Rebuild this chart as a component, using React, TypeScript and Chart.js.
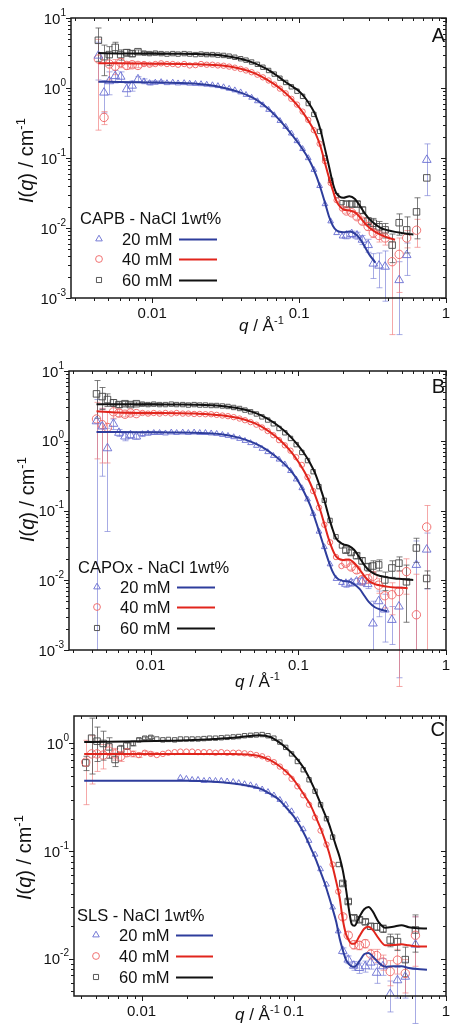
import React, { useEffect, useRef } from "react";
import { Chart, registerables } from "chart.js";

Chart.register(...registerables);

const FONT = 'Arial, "Liberation Sans", Helvetica, sans-serif';

// ---------------- data ----------------
// q grid of measured points (Å^-1): low-q (8), mid-q (36), high-q (13)
const qPoints = [
  0.0043, 0.0047, 0.0051, 0.0056, 0.0061, 0.0067, 0.0073, 0.008,
  0.0088, 0.0096, 0.0105, 0.0115, 0.0126, 0.0138, 0.015, 0.0165, 0.018, 0.0197,
  0.0215, 0.0235, 0.0257, 0.028, 0.0306, 0.0334, 0.0365, 0.04, 0.0435, 0.0475,
  0.052, 0.0567, 0.062, 0.0677, 0.074, 0.081, 0.0885, 0.0967, 0.1056, 0.1154,
  0.126, 0.138, 0.15, 0.164, 0.18, 0.196,
  0.21, 0.228, 0.248, 0.27, 0.295, 0.32, 0.35, 0.385, 0.43, 0.48, 0.54, 0.63, 0.74,
];

// q grid of model fits, panels A and B
const qFitAB = [
  0.0043, 0.006, 0.01, 0.015, 0.02, 0.03, 0.04, 0.05, 0.06, 0.07,
  0.08, 0.09, 0.1, 0.11, 0.12, 0.13, 0.14, 0.15, 0.16, 0.17,
  0.18, 0.2, 0.22, 0.24, 0.26, 0.28, 0.3, 0.33, 0.36, 0.4,
  0.45, 0.5, 0.55, 0.6,
];
// q grid of model fits, panel C
const qFitC = [
  0.0042, 0.006, 0.01, 0.015, 0.02, 0.03, 0.04, 0.05, 0.06, 0.07,
  0.08, 0.09, 0.1, 0.11, 0.12, 0.13, 0.14, 0.15, 0.16, 0.17,
  0.18, 0.19, 0.2, 0.21, 0.22, 0.23, 0.24, 0.25, 0.27, 0.29,
  0.31, 0.33, 0.36, 0.4, 0.45, 0.51, 0.57, 0.65, 0.75,
];

// ---- Panel A: CAPB ----
const ptsA20 = [
  2.9, 0.86, 1.25, 1.48, 1.45, 0.96, 1.08, 1.33,
  1.25, 1.18, 1.2, 1.22, 1.18, 1.2, 1.17, 1.18, 1.16, 1.15,
  1.14, 1.12, 1.1, 1.07, 1.03, 0.98, 0.93, 0.87, 0.8, 0.73,
  0.65, 0.57, 0.49, 0.41, 0.34, 0.28, 0.225, 0.175, 0.135, 0.1,
  0.068, 0.04, 0.022, 0.0125, 0.0085, 0.0076,
  0.0078, 0.0082, 0.0078, 0.0068, 0.0057, 0.0031, 0.0029, 0.0028, null, 0.0018, 0.0041, null, 0.094,
];
const errA20 = [
  1.6, 0.42, 0.45, 0.3, 0.25, 0.2, 0.18, 0.12,
  0.1, 0.08, 0.06, 0.05, 0, 0, 0, 0, 0, 0,
  0, 0, 0, 0, 0, 0, 0, 0, 0, 0,
  0, 0, 0, 0, 0, 0, 0, 0, 0, 0,
  0, 0, 0, 0, 0, 0,
  0.0008, 0.0008, 0.0009, 0.001, 0.0012, 0.0012, 0.0015, 0.0019, 0, 0.0015, 0.002, 0, 0.065,
];
const ptsA40 = [
  2.6, 0.38, 2.2, 2.05, 2.3, 2.1, 2.15, 2.1,
  2.2, 2.15, 2.2, 2.25, 2.2, 2.2, 2.15, 2.2, 2.1, 2.12,
  2.2, 2.15, 2.15, 2.1, 2.08, 2.02, 1.95, 1.87, 1.78, 1.68,
  1.55, 1.42, 1.28, 1.12, 0.98, 0.84, 0.7, 0.58, 0.46, 0.35,
  0.25, 0.16, 0.09, 0.044, 0.025, 0.019,
  0.0175, 0.0165, 0.0145, 0.0125, 0.0105, 0.0085, 0.0078, 0.0072, 0.0033, 0.0042, 0.0072, 0.0093, null,
];
const errA40 = [
  2.35, 0.08, 0.9, 0.5, 0.35, 0.25, 0.2, 0.15,
  0.1, 0.08, 0.06, 0.05, 0, 0, 0, 0, 0, 0,
  0, 0, 0, 0, 0, 0, 0, 0, 0, 0,
  0, 0, 0, 0, 0, 0, 0, 0, 0, 0,
  0, 0, 0, 0, 0, 0,
  0.0012, 0.0012, 0.0012, 0.0012, 0.0012, 0.0012, 0.0015, 0.0015, 0.003, 0.003, 0.002, 0.004, 0,
];
const ptsA60 = [
  4.8, 2.8, 3.0, 3.8, 3.0, 3.2, 3.1, 3.3,
  3.15, 3.1, 3.15, 3.1, 3.05, 3.1, 3.05, 3.1, 3.05, 3.0,
  3.05, 3.0, 3.0, 2.95, 2.92, 2.85, 2.75, 2.62, 2.5, 2.35,
  2.18, 1.98, 1.78, 1.58, 1.38, 1.2, 1.04, 0.9, 0.76, 0.6,
  0.42, 0.24, 0.1, 0.048, 0.029, 0.023,
  0.022, 0.022, 0.022, 0.018, 0.0125, 0.0117, 0.0104, 0.0094, 0.0057, 0.0119, 0.0094, 0.017, 0.052,
];
const errA60 = [
  2.4, 1.3, 0.9, 0.7, 0.5, 0.35, 0.3, 0.2,
  0.15, 0.12, 0.1, 0.08, 0, 0, 0, 0, 0, 0,
  0, 0, 0, 0, 0, 0, 0, 0, 0, 0,
  0, 0, 0, 0, 0, 0, 0, 0, 0, 0,
  0, 0, 0, 0, 0, 0,
  0.002, 0.002, 0.002, 0.002, 0.0015, 0.002, 0.002, 0.0022, 0.0025, 0.004, 0.005, 0.01, 0,
];
const fitA20 = [
  1.23, 1.22, 1.2, 1.18, 1.15, 1.02, 0.86, 0.7, 0.53, 0.39,
  0.285, 0.21, 0.158, 0.117, 0.085, 0.058, 0.037, 0.023, 0.0145, 0.0107,
  0.0092, 0.0087, 0.0089, 0.0083, 0.007, 0.0054, 0.0042, 0.0032, null, null,
  null, null, null, null,
];
const fitA40 = [
  2.25, 2.25, 2.22, 2.2, 2.18, 2.1, 1.88, 1.62, 1.33, 1.08,
  0.86, 0.68, 0.53, 0.4, 0.3, 0.22, 0.145, 0.085, 0.052, 0.034,
  0.024, 0.0185, 0.0178, 0.0168, 0.0142, 0.0117, 0.0102, 0.0088, 0.008, 0.0073,
  0.0068, null, null, null,
];
const fitA60 = [
  3.15, 3.12, 3.1, 3.08, 3.05, 2.92, 2.62, 2.25, 1.87, 1.52,
  1.24, 1.05, 0.9, 0.72, 0.55, 0.4, 0.25, 0.135, 0.075, 0.043,
  0.031, 0.027, 0.0285, 0.026, 0.0205, 0.0162, 0.0135, 0.0113, 0.01, 0.0093,
  0.0088, 0.0085, 0.0082, 0.0081,
];

// ---- Panel B: CAPOx ----
const ptsB20 = [
  1.9, 1.6, 0.78, 1.75, 1.3, 1.15, 1.2, 1.15,
  1.25, 1.28, 1.3, 1.3, 1.28, 1.32, 1.3, 1.32, 1.3, 1.32,
  1.3, 1.3, 1.28, 1.26, 1.22, 1.18, 1.13, 1.07, 1.0, 0.93,
  0.85, 0.77, 0.69, 0.61, 0.54, 0.46, 0.37, 0.28, 0.21, 0.145,
  0.09, 0.05, 0.03, 0.017, 0.0105, 0.0092,
  0.0089, 0.0092, 0.0096, 0.0096, 0.0088, 0.0024, 0.005, 0.0038, 0.0027, 0.0042, null, 0.0166, 0.0275,
];
const errB20 = [
  2.0, 1.29, 0.73, 0.3, 0.15, 0.15, 0.12, 0.1,
  0.1, 0.08, 0.06, 0.05, 0, 0, 0, 0, 0, 0,
  0, 0, 0, 0, 0, 0, 0, 0, 0, 0,
  0, 0, 0, 0, 0, 0, 0, 0, 0, 0,
  0, 0, 0, 0, 0, 0,
  0.001, 0.001, 0.001, 0.0012, 0.0012, 0.0026, 0.002, 0.0025, 0.0015, 0.0038, 0, 0.02, 0.02,
];
const ptsB40 = [
  2.05, 1.7, 1.55, 2.6, 2.5, 2.4, 2.5, 2.45,
  2.5, 2.45, 2.5, 2.45, 2.5, 2.45, 2.5, 2.45, 2.45, 2.42,
  2.42, 2.4, 2.4, 2.35, 2.3, 2.25, 2.18, 2.08, 1.97, 1.85,
  1.7, 1.55, 1.38, 1.2, 1.02, 0.86, 0.72, 0.58, 0.45, 0.3,
  0.19, 0.11, 0.0625, 0.035, 0.0215, 0.016,
  0.0175, 0.0155, 0.0141, 0.0101, 0.0105, 0.0114, 0.0085, 0.006, 0.0062, 0.0069, 0.0133, 0.0032, 0.058,
];
const errB40 = [
  1.5, 1.22, 1.07, 0.5, 0.3, 0.2, 0.15, 0.12,
  0.1, 0.08, 0.06, 0.05, 0, 0, 0, 0, 0, 0,
  0, 0, 0, 0, 0, 0, 0, 0, 0, 0,
  0, 0, 0, 0, 0, 0, 0, 0, 0, 0,
  0, 0, 0, 0, 0, 0,
  0.0015, 0.0015, 0.0015, 0.0015, 0.0015, 0.002, 0.002, 0.002, 0.003, 0.0066, 0.007, 0.009, 0.06,
];
const ptsB60 = [
  4.7, 4.3, 3.9, 3.5, 3.3, 3.4, 3.3, 3.4,
  3.35, 3.3, 3.35, 3.3, 3.3, 3.35, 3.3, 3.3, 3.25, 3.3,
  3.25, 3.25, 3.2, 3.2, 3.15, 3.1, 3.0, 2.9, 2.75, 2.6,
  2.42, 2.2, 1.98, 1.75, 1.5, 1.3, 1.08, 0.88, 0.68, 0.52,
  0.36, 0.22, 0.14, 0.072, 0.042, 0.031,
  0.027, 0.025, 0.0225, 0.019, 0.0155, 0.016, 0.0166, 0.0101, 0.015, 0.0176, 0.0095, 0.029, 0.0106,
];
const errB60 = [
  2.6, 1.5, 0.8, 0.4, 0.3, 0.25, 0.2, 0.2,
  0.15, 0.12, 0.1, 0.08, 0, 0, 0, 0, 0, 0,
  0, 0, 0, 0, 0, 0, 0, 0, 0, 0,
  0, 0, 0, 0, 0, 0, 0, 0, 0, 0,
  0, 0, 0, 0, 0, 0,
  0.002, 0.002, 0.002, 0.002, 0.002, 0.003, 0.003, 0.003, 0.004, 0.004, 0.007, 0.011, 0.003,
];
const fitB20 = [
  1.33, 1.33, 1.32, 1.31, 1.3, 1.24, 1.1, 0.93, 0.76, 0.6,
  0.47, 0.36, 0.26, 0.18, 0.12, 0.075, 0.046, 0.029, 0.019, 0.0135,
  0.011, 0.0098, 0.0096, 0.0087, 0.0075, 0.006, 0.0049, 0.0041, 0.0038, 0.0036,
  null, null, null, null,
];
const fitB40 = [
  2.65, 2.55, 2.5, 2.48, 2.45, 2.32, 2.1, 1.8, 1.47, 1.16,
  0.9, 0.68, 0.5, 0.36, 0.25, 0.165, 0.105, 0.064, 0.04, 0.028,
  0.022, 0.0195, 0.0198, 0.0175, 0.0142, 0.0115, 0.0098, 0.0088, 0.0084, 0.0081,
  0.0079, 0.0078, 0.0077, null,
];
const fitB60 = [
  3.35, 3.35, 3.33, 3.3, 3.28, 3.15, 2.9, 2.55, 2.15, 1.75,
  1.4, 1.1, 0.85, 0.65, 0.48, 0.34, 0.22, 0.14, 0.085, 0.055,
  0.04, 0.033, 0.031, 0.027, 0.021, 0.0165, 0.014, 0.0122, 0.0115, 0.011,
  0.0106, 0.0104, 0.0102, 0.0101,
];

// ---- Panel C: SLS ----
const ptsC20 = [
  null, null, null, null, null, null, null, null,
  null, null, null, null, null, null, null, null, 0.48, 0.47,
  0.46, 0.46, 0.45, 0.455, 0.45, 0.45, 0.445, 0.44, 0.43, 0.42,
  0.41, 0.395, 0.375, 0.355, 0.33, 0.3, 0.27, 0.235, 0.195, 0.16,
  0.125, 0.093, 0.068, 0.049, 0.03, 0.018,
  0.0118, 0.0098, 0.0086, 0.0082, 0.0085, 0.0092, 0.0074, 0.0085, 0.0047, 0.0063, 0.0068, 0.0135, null,
];
const errC20 = [
  0, 0, 0, 0, 0, 0, 0, 0,
  0, 0, 0, 0, 0, 0, 0, 0, 0, 0,
  0, 0, 0, 0, 0, 0, 0, 0, 0, 0,
  0, 0, 0, 0, 0, 0, 0, 0, 0, 0,
  0, 0, 0, 0, 0, 0,
  0.0008, 0.0008, 0.0008, 0.0009, 0.001, 0.0012, 0.0015, 0.0015, 0.0015, 0.002, 0.0025, 0.011, 0,
];
const ptsC40 = [
  0.67, 0.8, 0.8, 0.78, 0.85, 0.8, 0.76, 0.82,
  0.8, 0.78, 0.82, 0.8, 0.78, 0.8, 0.82, 0.83, 0.84, 0.84,
  0.84, 0.83, 0.83, 0.83, 0.82, 0.83, 0.82, 0.82, 0.82, 0.81,
  0.8, 0.78, 0.76, 0.72, 0.67, 0.61, 0.54, 0.47, 0.4, 0.33,
  0.27, 0.205, 0.155, 0.115, 0.075, 0.042,
  0.0245, 0.0165, 0.0135, 0.0133, 0.0138, 0.011, 0.0107, 0.0093, 0.0076, 0.0097, 0.0073, 0.0165, null,
];
const errC40 = [
  0.4, 0.38, 0.25, 0.2, 0.12, 0.1, 0.08, 0.06,
  0.05, 0.04, 0.03, 0.03, 0, 0, 0, 0, 0, 0,
  0, 0, 0, 0, 0, 0, 0, 0, 0, 0,
  0, 0, 0, 0, 0, 0, 0, 0, 0, 0,
  0, 0, 0, 0, 0, 0,
  0.0015, 0.0012, 0.0012, 0.0012, 0.0012, 0.0012, 0.0015, 0.0015, 0.002, 0.0025, 0.0025, 0.008, 0,
];
const ptsC60 = [
  0.66, 1.12, 1.05, 1.0, 0.93, 0.71, 0.88, 0.95,
  1.0, 1.08, 1.12, 1.14, 1.1, 1.08, 1.09, 1.08, 1.1, 1.1,
  1.1, 1.1, 1.11, 1.12, 1.12, 1.13, 1.14, 1.15, 1.16, 1.18,
  1.19, 1.2, 1.21, 1.18, 1.12, 1.03, 0.92, 0.8, 0.68, 0.57,
  0.46, 0.36, 0.27, 0.2, 0.135, 0.075,
  0.05, 0.034, 0.024, 0.023, 0.022, 0.02, 0.0198, 0.019, 0.0149, 0.0144, 0.0098, 0.0185, null,
];
const errC60 = [
  0.1, 0.6, 0.37, 0.3, 0.2, 0.1, 0.08, 0.06,
  0.05, 0.04, 0.03, 0.03, 0, 0, 0, 0, 0, 0,
  0, 0, 0, 0, 0, 0, 0, 0, 0, 0,
  0, 0, 0, 0, 0, 0, 0, 0, 0, 0,
  0, 0, 0, 0, 0, 0,
  0.002, 0.0015, 0.0012, 0.0012, 0.0012, 0.0012, 0.0015, 0.0015, 0.002, 0.0025, 0.003, 0.007, 0,
];
const fitC20 = [
  0.45, 0.45, 0.45, 0.45, 0.45, 0.44, 0.425, 0.405, 0.38, 0.34,
  0.3, 0.25, 0.21, 0.17, 0.135, 0.105, 0.083, 0.064, 0.05, 0.038,
  0.029, 0.022, 0.0155, 0.012, 0.0098, 0.0089, 0.0085, 0.0084, 0.0095, 0.011,
  0.0113, 0.0105, 0.0092, 0.0084, 0.0085, 0.0085, 0.0082, 0.008, 0.0079,
];
const fitC40 = [
  0.8, 0.8, 0.8, 0.8, 0.8, 0.8, 0.8, 0.79, 0.76, 0.7,
  0.62, 0.54, 0.46, 0.38, 0.315, 0.26, 0.205, 0.163, 0.127, 0.098,
  0.072, 0.052, 0.037, 0.023, 0.017, 0.0148, 0.0138, 0.0138, 0.0162, 0.019,
  0.0198, 0.0185, 0.0155, 0.0133, 0.0134, 0.0136, 0.0133, 0.013, 0.013,
];
const fitC60 = [
  1.03, 1.04, 1.05, 1.06, 1.07, 1.1, 1.13, 1.17, 1.19, 1.15,
  1.03, 0.9, 0.78, 0.66, 0.55, 0.44, 0.35, 0.275, 0.22, 0.18,
  0.14, 0.11, 0.088, 0.066, 0.045, 0.029, 0.021, 0.0202, 0.0245, 0.0288,
  0.0302, 0.0275, 0.022, 0.0194, 0.0198, 0.0205, 0.0196, 0.0192, 0.0191,
];

const seriesLabels = ["20 mM", "40 mM", "60 mM"];
const xTickLabels = ["0.01", "0.1", "1"];

// ---------------- styles ----------------
const SERIES = [
  { style: "triangle", point: "rgba(104,110,210,0.9)", err: "rgba(120,126,214,0.65)", line: "#2e3d9c", rBig: 5.0, rSmall: 3.3, rLeg: 3.8 },
  { style: "circle", point: "rgba(240,100,100,0.9)", err: "rgba(240,122,122,0.65)", line: "#e1251c", rBig: 4.2, rSmall: 2.7, rLeg: 3.4 },
  { style: "rect", point: "rgba(70,70,70,0.9)", err: "rgba(80,80,80,0.75)", line: "#111111", rBig: 4.6, rSmall: 3.1, rLeg: 3.6 },
];

type PanelCfg = any;

const panels: PanelCfg[] = [
  {
    key: "A", top: 0, height: 345,
    area: { left: 71, top: 18, right: 449, bottom: 298 },
    xMin: 0.0028, xMax: 1, yMin: 1e-3, yMax: 10,
    legendTitle: "CAPB - NaCl 1wt%",
    legend: { x: 80, titleY: 224, rows: [239, 259, 280], sym: 99, label: 122, line: [179, 217] },
    letterY: 42, yTitle: { x: 33, y: 203 }, xTitle: { x: 239, y: 331 },
    qFit: qFitAB, fits: [fitA20, fitA40, fitA60], pts: [ptsA20, ptsA40, ptsA60], errs: [errA20, errA40, errA60],
  },
  {
    key: "B", top: 345, height: 345,
    area: { left: 69, top: 26, right: 447, bottom: 305 },
    xMin: 0.0028, xMax: 1, yMin: 1e-3, yMax: 10,
    legendTitle: "CAPOx - NaCl 1wt%",
    legend: { x: 78, titleY: 228, rows: [242, 262, 283], sym: 97, label: 120, line: [177, 215] },
    letterY: 48, yTitle: { x: 34, y: 197 }, xTitle: { x: 235, y: 342 },
    qFit: qFitAB, fits: [fitB20, fitB40, fitB60], pts: [ptsB20, ptsB40, ptsB60], errs: [errB20, errB40, errB60],
  },
  {
    key: "C", top: 690, height: 335,
    area: { left: 74, top: 26, right: 450, bottom: 306 },
    xMin: 0.0036, xMax: 1, yMin: 0.0045, yMax: 1.8,
    legendTitle: "SLS - NaCl 1wt%",
    legend: { x: 77, titleY: 231, rows: [245, 266, 287], sym: 96, label: 119, line: [176, 213] },
    letterY: 46, yTitle: { x: 31, y: 210 }, xTitle: { x: 235, y: 330 },
    qFit: qFitC, fits: [fitC20, fitC40, fitC60], pts: [ptsC20, ptsC40, ptsC60], errs: [errC20, errC40, errC60],
  },
];

// ---------------- drawing helpers ----------------
type Part = { t: string; it?: boolean; sup?: boolean };
function drawRich(ctx: CanvasRenderingContext2D, parts: Part[], x: number, y: number, size: number) {
  let cx = x;
  for (const p of parts) {
    const fs = p.sup ? Math.round(size * 0.66) : size;
    ctx.font = `${p.it ? "italic " : ""}${fs}px ${FONT}`;
    ctx.fillText(p.t, cx, p.sup ? y - size * 0.42 : y);
    cx += ctx.measureText(p.t).width;
  }
  return cx - x;
}

function drawMarker(ctx: CanvasRenderingContext2D, style: string, x: number, y: number, r: number) {
  ctx.beginPath();
  if (style === "triangle") {
    for (let k = 0; k < 3; k++) {
      const a = (k * 2 * Math.PI) / 3;
      const px = x + Math.sin(a) * r;
      const py = y - Math.cos(a) * r;
      if (k === 0) ctx.moveTo(px, py);
      else ctx.lineTo(px, py);
    }
    ctx.closePath();
  } else if (style === "circle") {
    ctx.arc(x, y, r, 0, Math.PI * 2);
  } else {
    const s = r * Math.SQRT1_2;
    ctx.rect(x - s, y - s, 2 * s, 2 * s);
  }
  ctx.stroke();
}

function makePlugin(p: PanelCfg) {
  return {
    id: "decor" + p.key,
    beforeDatasetsDraw(chart: any) {
      const ctx: CanvasRenderingContext2D = chart.ctx;
      const xs = chart.scales.x;
      const ys = chart.scales.y;
      const ca = chart.chartArea;
      ctx.save();
      ctx.lineWidth = 1;
      SERIES.forEach((s, si) => {
        const vals = p.pts[si];
        const errs = p.errs[si];
        ctx.strokeStyle = s.err;
        for (let i = 0; i < qPoints.length; i++) {
          const v = vals[i];
          const e = errs[i];
          if (v == null || !e) continue;
          const px = Math.round(xs.getPixelForValue(qPoints[i])) + 0.5;
          const hi = v + e;
          const lo = v - e;
          const yHi = hi >= p.yMax ? ca.top : ys.getPixelForValue(hi);
          const yLo = lo <= 0 ? ca.bottom : ys.getPixelForValue(lo);
          ctx.beginPath();
          ctx.moveTo(px, yHi);
          ctx.lineTo(px, yLo);
          if (hi < p.yMax) {
            ctx.moveTo(px - 3, yHi);
            ctx.lineTo(px + 3, yHi);
          }
          if (lo > 0) {
            ctx.moveTo(px - 3, yLo);
            ctx.lineTo(px + 3, yLo);
          }
          ctx.stroke();
        }
      });
      ctx.restore();
    },
    afterDraw(chart: any) {
      const ctx: CanvasRenderingContext2D = chart.ctx;
      const xs = chart.scales.x;
      const ys = chart.scales.y;
      const ca = chart.chartArea;
      ctx.save();
      // frame
      ctx.strokeStyle = "#1a1a1a";
      ctx.lineWidth = 1.5;
      ctx.strokeRect(ca.left, ca.top, ca.right - ca.left, ca.bottom - ca.top);
      ctx.lineWidth = 1;
      ctx.beginPath();
      // x ticks
      for (let e = Math.floor(Math.log10(p.xMin)); e <= 0; e++) {
        for (let m = 1; m <= 9; m++) {
          const v = m * Math.pow(10, e);
          if (v < p.xMin * 0.999 || v > p.xMax * 1.001) continue;
          const px = Math.round(xs.getPixelForValue(v)) + 0.5;
          const L = m === 1 ? 5 : 3;
          ctx.moveTo(px, ca.bottom);
          ctx.lineTo(px, ca.bottom + L);
          ctx.moveTo(px, ca.top);
          ctx.lineTo(px, ca.top + L);
        }
      }
      // y ticks
      for (let e = Math.floor(Math.log10(p.yMin)); e <= Math.ceil(Math.log10(p.yMax)); e++) {
        for (let m = 1; m <= 9; m++) {
          const v = m * Math.pow(10, e);
          if (v < p.yMin * 0.999 || v > p.yMax * 1.001) continue;
          const py = Math.round(ys.getPixelForValue(v)) + 0.5;
          const L = m === 1 ? 5 : 3;
          ctx.moveTo(ca.left - L, py);
          ctx.lineTo(ca.left, py);
          ctx.moveTo(ca.right - L, py);
          ctx.lineTo(ca.right, py);
        }
      }
      ctx.stroke();

      ctx.fillStyle = "#111";
      // x tick labels
      ctx.font = `15px ${FONT}`;
      ctx.textAlign = "center";
      ctx.textBaseline = "alphabetic";
      [0.01, 0.1, 1].forEach((v, i) => {
        ctx.fillText(xTickLabels[i], xs.getPixelForValue(v), ca.bottom + 20);
      });
      // y tick labels (10^n)
      ctx.textAlign = "left";
      for (let e = Math.ceil(Math.log10(p.yMin) - 1e-9); e <= Math.floor(Math.log10(p.yMax) + 1e-9); e++) {
        const py = ys.getPixelForValue(Math.pow(10, e));
        const expTxt = e < 0 ? "-" + -e : String(e);
        ctx.font = `15px ${FONT}`;
        const w1 = ctx.measureText("10").width;
        ctx.font = `10px ${FONT}`;
        const w2 = ctx.measureText(expTxt).width;
        const x0 = ca.left - 5 - w1 - w2;
        ctx.font = `15px ${FONT}`;
        ctx.fillText("10", x0, py + 5.5);
        ctx.font = `10px ${FONT}`;
        ctx.fillText(expTxt, x0 + w1, py - 2.5);
      }
      // panel letter
      ctx.font = `20px ${FONT}`;
      ctx.textAlign = "right";
      ctx.fillText(p.key, 445, p.letterY);
      ctx.textAlign = "left";
      // x title
      drawRich(ctx, [{ t: "q", it: true }, { t: " / Å" }, { t: "-1", sup: true }], p.xTitle.x, p.xTitle.y, 17);
      // y title
      ctx.save();
      ctx.translate(p.yTitle.x, p.yTitle.y);
      ctx.rotate(-Math.PI / 2);
      drawRich(ctx, [{ t: "I", it: true }, { t: "(" }, { t: "q", it: true }, { t: ") / cm" }, { t: "-1", sup: true }], 0, 0, 20);
      ctx.restore();
      // legend
      const L = p.legend;
      ctx.font = `16.5px ${FONT}`;
      ctx.fillText(p.legendTitle, L.x, L.titleY);
      SERIES.forEach((s, i) => {
        const ry = L.rows[i];
        ctx.strokeStyle = s.point;
        ctx.lineWidth = 1;
        drawMarker(ctx, s.style, L.sym, ry, s.rLeg);
        ctx.fillStyle = "#111";
        ctx.font = `16.5px ${FONT}`;
        ctx.fillText(seriesLabels[i], L.label, ry + 6);
        ctx.strokeStyle = s.line;
        ctx.lineWidth = 2;
        ctx.beginPath();
        ctx.moveTo(L.line[0], ry + 0.5);
        ctx.lineTo(L.line[1], ry + 0.5);
        ctx.stroke();
      });
      ctx.restore();
    },
  };
}

function buildConfig(p: PanelCfg): any {
  const a = p.area;
  const lineSets = SERIES.map((s, si) => ({
    data: p.fits[si]
      .map((v: number | null, i: number) => (v == null ? null : { x: p.qFit[i], y: v }))
      .filter(Boolean),
    showLine: true,
    borderColor: s.line,
    borderWidth: 2,
    pointRadius: 0,
    cubicInterpolationMode: "monotone",
    fill: false,
    order: 0,
  }));
  const pointSets = SERIES.map((s, si) => ({
    data: p.pts[si]
      .map((v: number | null, i: number) => (v == null ? null : { x: qPoints[i], y: v }))
      .filter(Boolean),
    showLine: false,
    pointStyle: s.style,
    pointRadius: (c: any) => {
      const q = c.raw ? c.raw.x : 0.05;
      return q < 0.0085 || q > 0.2 ? s.rBig : s.rSmall;
    },
    pointBorderColor: s.point,
    pointBackgroundColor: "rgba(255,255,255,0)",
    pointBorderWidth: 1,
    order: 1,
  }));
  return {
    type: "scatter",
    data: { datasets: [...lineSets, ...pointSets] },
    options: {
      responsive: false,
      animation: false,
      devicePixelRatio: 1,
      events: [],
      layout: { padding: { left: a.left, top: a.top, right: 452 - a.right, bottom: p.height - a.bottom } },
      scales: {
        x: { type: "logarithmic", min: p.xMin, max: p.xMax, display: false },
        y: { type: "logarithmic", min: p.yMin, max: p.yMax, display: false },
      },
      plugins: { legend: { display: false }, tooltip: { enabled: false } },
    },
    plugins: [makePlugin(p)],
  };
}

function Panel({ p }: { p: PanelCfg }) {
  const ref = useRef<HTMLCanvasElement>(null);
  useEffect(() => {
    const chart = new Chart(ref.current as HTMLCanvasElement, buildConfig(p));
    return () => chart.destroy();
  }, [p]);
  return (
    <canvas
      ref={ref}
      width={452}
      height={p.height}
      style={{ position: "absolute", left: 0, top: p.top, width: 452, height: p.height }}
    />
  );
}

export default function App() {
  return (
    <div style={{ position: "absolute", left: 0, top: 0, width: 452, height: 1025, background: "#fff", overflow: "hidden" }}>
      {panels.map((p) => (
        <Panel key={p.key} p={p} />
      ))}
    </div>
  );
}
